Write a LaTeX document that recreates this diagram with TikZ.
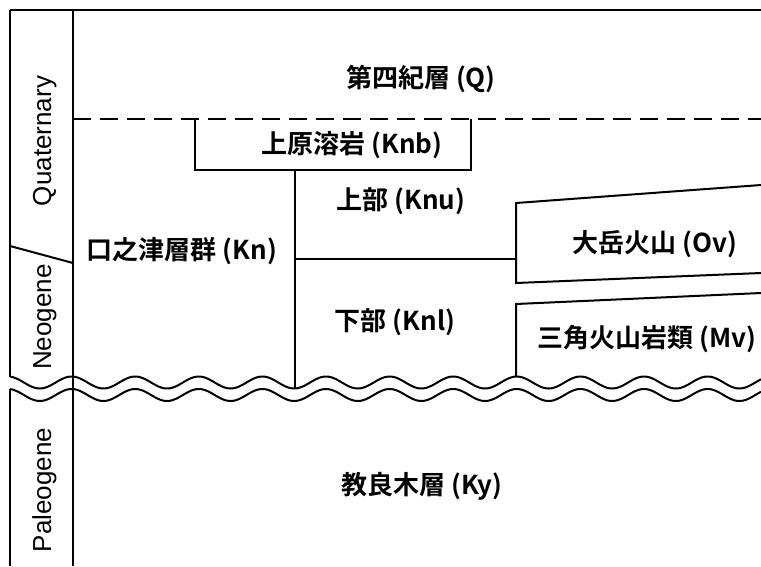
\documentclass[tikz,border=0pt]{standalone}
\usepackage{fontspec}
\setmainfont{Liberation Sans}
\newfontfamily\jp{Noto Sans CJK JP}[BoldFont={Noto Sans CJK JP Bold}]
\begin{document}
\begin{tikzpicture}[x=1pt,y=-1pt,
  lbl/.style={font=\jp\bfseries\fontsize{26pt}{26pt}\selectfont, inner sep=0pt, anchor=base},
  era/.style={font=\fontsize{26pt}{26pt}\selectfont, inner sep=0pt, anchor=base, rotate=90},
  heavy/.style={line width=2pt},
  thinl/.style={line width=1.3pt},
  dashl/.style={line width=1.6pt, dash pattern=on 18pt off 9pt}]
\useasboundingbox (0,0) rectangle (761,566);
\begin{scope}
\clip (0,0) rectangle (761,566);
% frame
\coordinate (tl) at (10,10);
\coordinate (tr) at (761,10);
\coordinate (colT) at (73,10);
\coordinate (colB) at (73,566);
\draw[heavy] (tl) -- (tr);
\draw[heavy] (tl) -- (10,376.6);
\draw[heavy] (10,389) -- (10,566);
\draw[heavy] (colT) -- (colB);
\draw[heavy] (10,246) -- (73,263);
% dashed boundary
\coordinate (dL) at (73,119);
\coordinate (dR) at (761,119);
\draw[dashl] (dL) -- (dR);
% Knb box
\draw[thinl] (195,119) -- (195,170) -- (471,170) -- (471,119);
% inner lines
\coordinate (vT) at (295,170);
\coordinate (vB) at (295,388.5);
\draw[thinl] (vT) -- (vB);
\coordinate (hL) at (295,259);
\coordinate (hR) at (516,259);
\draw[thinl] (hL) -- (hR);
% Ov and Mv
\draw[heavy] (761,185) -- (516,203) -- (516,283) -- (761,273);
\draw[heavy] (761,293) -- (516,304) -- (516,376.6);
% unconformity waves
\draw[heavy] plot[domain=10:761,samples=400] (\x,{382.5-6*cos(5.6604*(\x-8))});
\draw[heavy] plot[domain=10:761,samples=400] (\x,{395-6*cos(5.6604*(\x-8))});
\end{scope}
% labels
\node[lbl] (q) at (421,87) {第四紀層 (Q)};
\node[lbl] (knb) at (352,153.5) {上原溶岩 (Knb)};
\node[lbl] (knu) at (401,209) {上部 (Knu)};
\node[lbl] (kn) at (182,259.5) {口之津層群 (Kn)};
\node[lbl] (ov) at (655,252.5) {大岳火山 (Ov)};
\node[lbl] (knl) at (395,330) {下部 (Knl)};
\node[lbl] (mv) at (647,347) {三角火山岩類 (Mv)};
\node[lbl] (ky) at (422,494.5) {教良木層 (Ky)};
\node[era] (quat) at (51,141) {Quaternary};
\node[era] (neo) at (51,317) {Neogene};
\node[era] (paleo) at (51,490) {Paleogene};
\end{tikzpicture}
\end{document}
